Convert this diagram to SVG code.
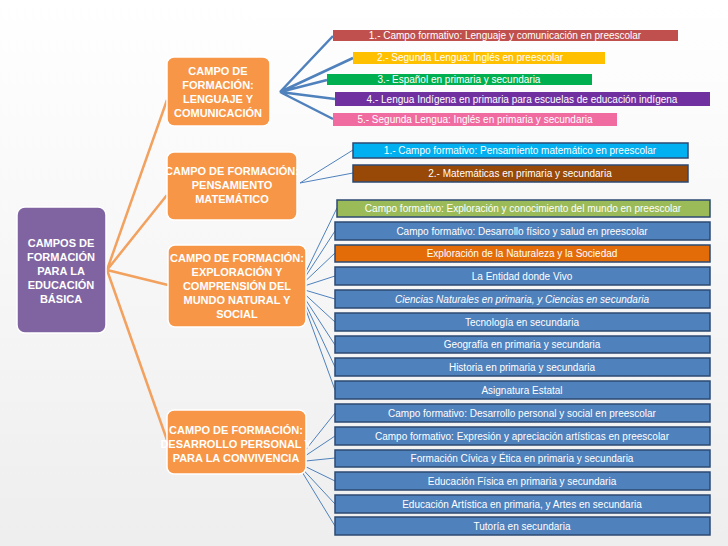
<svg xmlns="http://www.w3.org/2000/svg" width="728" height="546" viewBox="0 0 728 546">
<defs>
<linearGradient id="bg" x1="0" y1="0" x2="0" y2="1"><stop offset="0" stop-color="#ffffff"/><stop offset="1" stop-color="#eeeeee"/></linearGradient>
<style>
text{font-family:"Liberation Sans",Arial,sans-serif;fill:#fff;text-anchor:middle}
.h{font-weight:bold;font-size:11px}
.i{font-size:10px}
.b{stroke:#2c4a72;stroke-width:1.5}
.ob{fill:#f79646;stroke:#fff;stroke-width:1.5}
.cb{fill:none}
</style>
</defs>
<rect width="728" height="546" fill="url(#bg)"/>
<g id="connectors" fill="none">
<g stroke="#f2a15e" stroke-width="2.5">
<path d="M107 270L167 100M107 270L167 195M107 270L168 285M107 270L167 440"/>
</g>
<g stroke="#4f81bd" stroke-width="2.5">
<path d="M280 92L333 36M280 92L353 58M280 92L327 80M280 92L335 99M280 92L333 119"/>
</g>
<g stroke="#4f81bd" stroke-width="1">
<path d="M300 183L353 150M300 183L353 173"/>
<path d="M298 288L337 208M298 288L335 231M298 288L335 253M298 288L335 276M298 288L335 299M298 288L335 322M298 288L335 345M298 288L335 367M298 288L335 390"/>
<path d="M296 462L335 413M296 462L335 436M296 462L335 458M296 462L335 481M296 462L335 504M296 462L335 526"/>
</g>
</g>
<g id="root"><rect x="17" y="207" width="89" height="126" rx="8" fill="#8064a2" stroke="#fff" stroke-width="1.5"/>
<text class="h" x="61" y="247">CAMPOS DE</text><text class="h" x="61" y="261">FORMACIÓN</text><text class="h" x="61" y="275">PARA LA</text><text class="h" x="61" y="289">EDUCACIÓN</text><text class="h" x="61" y="303">BÁSICA</text></g>
<g id="lenguaje"><rect class="ob" x="167" y="57" width="103" height="69" rx="7"/>
<text class="h" x="218" y="75">CAMPO DE</text><text class="h" x="218" y="89">FORMACIÓN:</text><text class="h" x="218" y="103">LENGUAJE Y</text><text class="h" x="218" y="117">COMUNICACIÓN</text></g>
<g id="pensamiento"><rect class="ob" x="167" y="152" width="130" height="68" rx="7"/>
<text class="h" x="232" y="175">CAMPO DE FORMACIÓN:</text><text class="h" x="232" y="189">PENSAMIENTO</text><text class="h" x="232" y="203">MATEMÁTICO</text></g>
<g id="exploracion"><rect class="ob" x="168" y="245" width="138" height="82" rx="7"/>
<text class="h" x="237" y="262">CAMPO DE FORMACIÓN:</text><text class="h" x="237" y="276">EXPLORACIÓN Y</text><text class="h" x="237" y="290">COMPRENSIÓN DEL</text><text class="h" x="237" y="304">MUNDO NATURAL Y</text><text class="h" x="237" y="318">SOCIAL</text></g>
<g id="desarrollo"><rect class="ob" x="167" y="410" width="139" height="64" rx="7"/>
<text class="h" x="236" y="434">CAMPO DE FORMACIÓN:</text><text class="h" x="236" y="448">DESARROLLO PERSONAL Y</text><text class="h" x="236" y="462">PARA LA CONVIVENCIA</text></g>
<g id="l1"><rect x="333" y="30" width="345" height="11" fill="#c0504d"/><text class="i" x="505" y="39">1.- Campo formativo: Lenguaje y comunicación en preescolar</text></g>
<g id="l2"><rect x="353" y="52" width="252" height="12" fill="#ffc000"/><text class="i" x="470" y="61">2.- Segunda Lengua: Inglés en preescolar</text></g>
<g id="l3"><rect x="327" y="74" width="265" height="11" fill="#00b050"/><text class="i" x="459" y="83">3.- Español en primaria y secundaria</text></g>
<g id="l4"><rect x="335" y="92" width="375" height="14" fill="#7030a0"/><text class="i" x="522" y="103">4.- Lengua Indígena en primaria para escuelas de educación indígena</text></g>
<g id="l5"><rect x="333" y="113" width="284" height="13" fill="#f06ca0"/><text class="i" x="475" y="123">5.- Segunda Lengua: Inglés en primaria y secundaria</text></g>
<g id="p1"><rect class="b" x="353" y="143" width="335" height="15" fill="#00b0f0"/><text class="i" x="520" y="154">1.- Campo formativo: Pensamiento matemático en preescolar</text></g>
<g id="p2"><rect class="b" x="353" y="165" width="335" height="17" fill="#984807"/><text class="i" x="520" y="177">2.- Matemáticas en primaria y secundaria</text></g>
<g id="e1"><rect class="b" x="337" y="200" width="373" height="17" fill="#9bbb59"/><text class="i" x="523" y="212">Campo formativo: Exploración y conocimiento del mundo en preescolar</text></g>
<g id="e2"><rect class="b" x="335" y="222" width="375" height="18" fill="#4f81bd"/><text class="i" x="522" y="235">Campo formativo: Desarrollo físico y salud en preescolar</text></g>
<g id="e3"><rect class="b" x="335" y="245" width="375" height="17" fill="#e36c09"/><text class="i" x="522" y="257">Exploración de la Naturaleza y la Sociedad</text></g>
<g id="e4"><rect class="b" x="335" y="267" width="375" height="18" fill="#4f81bd"/><text class="i" x="522" y="280">La Entidad donde Vivo</text></g>
<g id="e5"><rect class="b" x="335" y="290" width="375" height="18" fill="#4f81bd"/><text class="i" x="522" y="303" font-style="italic">Ciencias Naturales en primaria, y Ciencias en secundaria</text></g>
<g id="e6"><rect class="b" x="335" y="313" width="375" height="18" fill="#4f81bd"/><text class="i" x="522" y="326">Tecnología en secundaria</text></g>
<g id="e7"><rect class="b" x="335" y="336" width="375" height="17" fill="#4f81bd"/><text class="i" x="522" y="348">Geografía en primaria y secundaria</text></g>
<g id="e8"><rect class="b" x="335" y="358" width="375" height="18" fill="#4f81bd"/><text class="i" x="522" y="371">Historia en primaria y secundaria</text></g>
<g id="e9"><rect class="b" x="335" y="381" width="375" height="18" fill="#4f81bd"/><text class="i" x="522" y="394">Asignatura Estatal</text></g>
<g id="d1"><rect class="b" x="335" y="404" width="375" height="18" fill="#4f81bd"/><text class="i" x="522" y="417">Campo formativo: Desarrollo personal y social en preescolar</text></g>
<g id="d2"><rect class="b" x="335" y="427" width="375" height="18" fill="#4f81bd"/><text class="i" x="522" y="440">Campo formativo: Expresión y apreciación artísticas en preescolar</text></g>
<g id="d3"><rect class="b" x="335" y="450" width="375" height="17" fill="#4f81bd"/><text class="i" x="522" y="462">Formación Cívica y Ética en primaria y secundaria</text></g>
<g id="d4"><rect class="b" x="335" y="472" width="375" height="18" fill="#4f81bd"/><text class="i" x="522" y="485">Educación Física en primaria y secundaria</text></g>
<g id="d5"><rect class="b" x="335" y="495" width="375" height="18" fill="#4f81bd"/><text class="i" x="522" y="508">Educación Artística en primaria, y Artes en secundaria</text></g>
<g id="d6"><rect class="b" x="335" y="517" width="375" height="18" fill="#4f81bd"/><text class="i" x="522" y="530">Tutoría en secundaria</text></g>
</svg>
